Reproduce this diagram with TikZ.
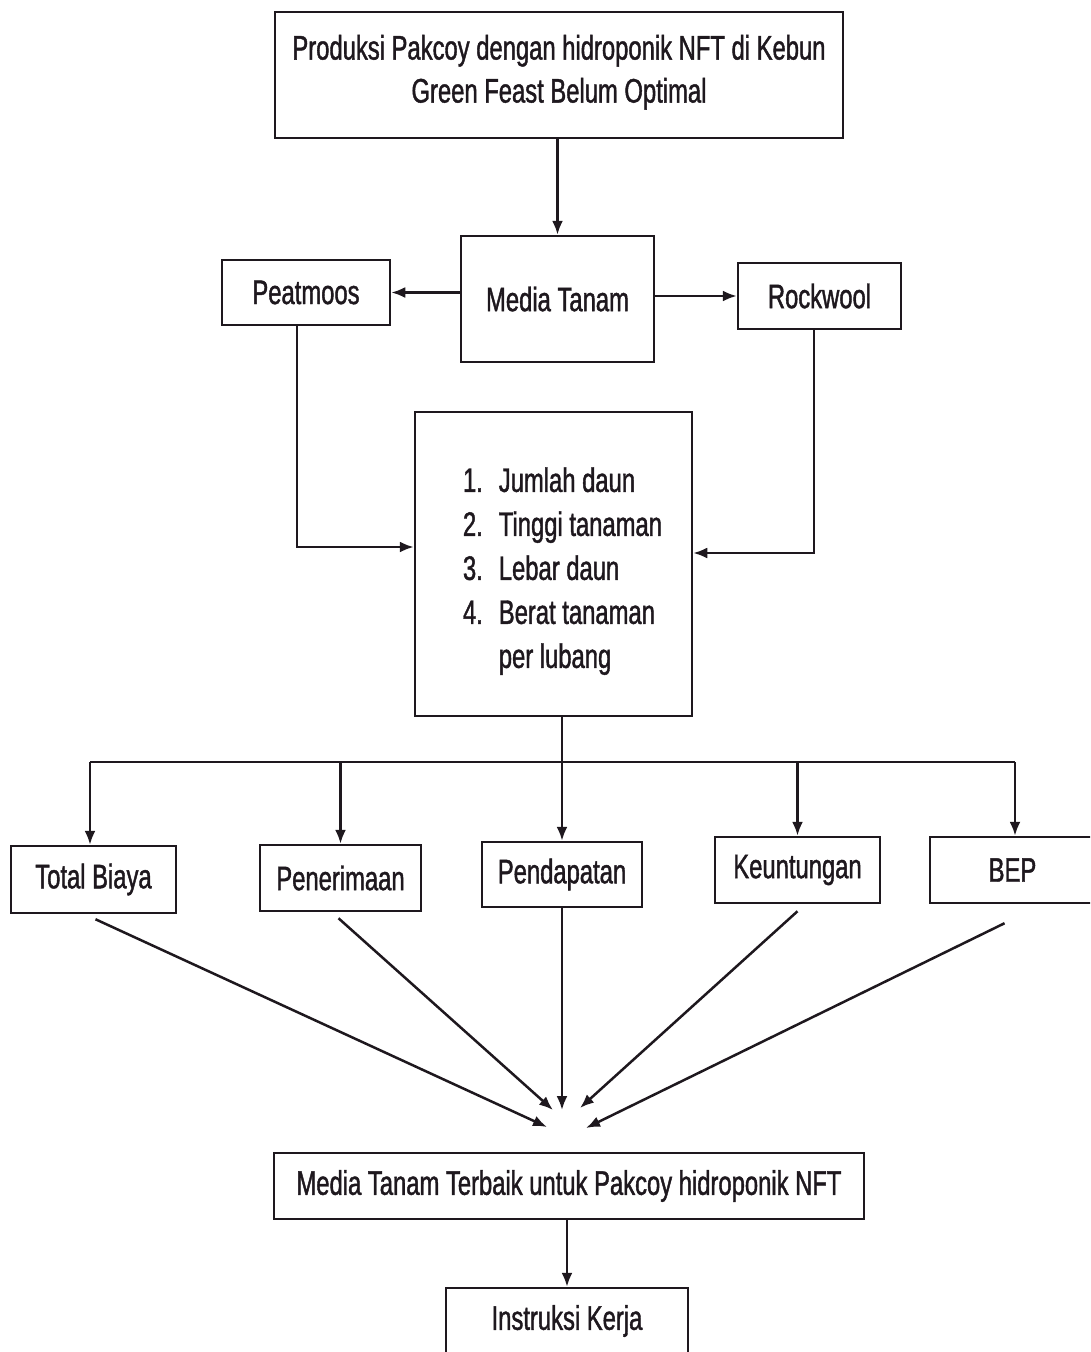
\documentclass[tikz,border=0pt]{standalone}
\usepackage{fontspec}
\setmainfont{Liberation Sans}[FakeStretch=0.7,FakeBold=1.2]
\usetikzlibrary{arrows.meta}
\definecolor{ink}{RGB}{30,24,30}
\begin{document}
\begin{tikzpicture}[x=1pt,y=-1pt,
  box/.style={draw=ink, line width=2.5pt, rectangle, inner sep=0pt, text=ink, align=center, font=\fontsize{34}{43}\selectfont},
  arr/.style={draw=ink, line width=2.5pt, -{Latex[length=14pt,width=11pt]}},
  ln/.style={draw=ink, line width=2.5pt}]
\useasboundingbox (0,0) rectangle (1090,1352);
\clip (0,0) rectangle (1090,1352);
\fill[white] (0,0) rectangle (1090,1352);

\node[box, minimum width=568pt, minimum height=126pt] (top) at (559,75) {\begin{tabular}{@{}c@{}}Produksi Pakcoy dengan hidroponik NFT di Kebun\\Green Feast Belum Optimal\rule[-18pt]{0pt}{1pt}\end{tabular}};
\node[box, minimum width=193pt, minimum height=126pt] (mt) at (557.5,299) {Media Tanam};
\node[box, minimum width=168pt, minimum height=65pt] (peat) at (306,292.5) {Peatmoos};
\node[box, minimum width=163pt, minimum height=66pt] (rock) at (819.5,296) {Rockwool};
\node[box, minimum width=277pt, minimum height=304pt] (mid) at (553.5,564) {\hspace*{18pt}{\fontsize{34}{44}\selectfont\begin{tabular}{@{}r@{\hspace{16pt}}l@{}}\rule{0pt}{45pt}1. & Jumlah daun\\ 2. & Tinggi tanaman\\ 3. & Lebar daun\\ 4. & Berat tanaman\\ & per lubang\end{tabular}}};

\node[box, minimum width=165pt, minimum height=67pt] (tb) at (93.5,879.5) {Total Biaya};
\node[box, minimum width=161pt, minimum height=66pt] (pen) at (340.5,878) {Penerimaan};
\node[box, minimum width=160pt, minimum height=65pt] (pend) at (562,874.5) {Pendapatan};
\node[box, minimum width=165pt, minimum height=66pt] (keu) at (797.5,870) {Keuntungan};
\node[box, minimum width=165pt, minimum height=66pt] (bep) at (1012.5,870) {BEP};

\node[box, minimum width=590pt, minimum height=66pt] (bot) at (569,1186) {Media Tanam Terbaik untuk Pakcoy hidroponik NFT};
\node[box, minimum width=242pt, minimum height=66pt] (ik) at (567,1321) {Instruksi Kerja};

% connectors
\draw[arr] (top.south -| mt) -- (mt.north);
\draw[arr] (mt.west |- peat) -- (peat.east);
\draw[arr] (mt.east |- rock) -- (rock.west);
\draw[arr] ([xshift=-9pt]peat.south) |- ([yshift=17pt]mid.west);
\draw[arr] ([xshift=-5.5pt]rock.south) |- ([yshift=11pt]mid.east);

\coordinate (busL) at (90,762);
\coordinate (busR) at (1015,762);
\draw[ln] (busL) -- (busR);
\draw[arr] (mid.south -| pend.north) -- (pend.north);
\draw[arr] (busL) -- (busL |- tb.north);
\draw[arr] (pen.north |- busL) -- (pen.north);
\draw[arr] (keu.north |- busL) -- (keu.north);
\draw[arr] (busR) -- (busR |- bep.north);

\coordinate (c1) at (547,1127);
\coordinate (c2) at (553,1110);
\coordinate (c3) at (562,1110);
\coordinate (c4) at (580,1108);
\coordinate (c5) at (586,1128);
\draw[arr] ([xshift=2pt,yshift=-5pt]tb.south) -- (c1);
\draw[arr] ([xshift=-2pt,yshift=-6pt]pen.south) -- (c2);
\draw[arr] (pend.south) -- (c3);
\draw[arr] ([yshift=-7pt]keu.south) -- (c4);
\draw[arr] ([xshift=-8pt,yshift=-19pt]bep.south) -- (c5);

\draw[arr] (bot.south -| ik) -- (ik.north);
\end{tikzpicture}
\end{document}
